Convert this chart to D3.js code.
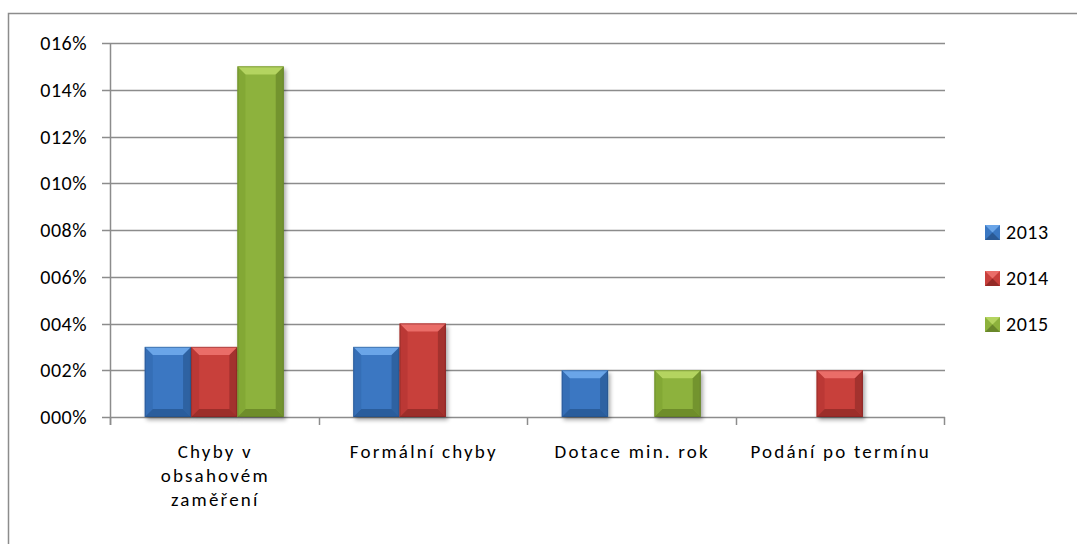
<!DOCTYPE html>
<html><head><meta charset="utf-8">
<script src="https://cdn.jsdelivr.net/npm/d3@7"></script>
<style>
body{margin:0;background:#fff;}
text{font-family:Carlito,Lato,"Open Sans",sans-serif;fill:#000;}
</style></head>
<body><svg id="c" width="1077" height="544"></svg>
<script>
const categories = [["Chyby v","obsahovém","zaměření"],["Formální chyby"],["Dotace min. rok"],["Podání po termínu"]];
const seriesNames = ["2013","2014","2015"];
const values2013 = [3,3,2,0];
const values2014 = [3,4,0,2];
const values2015 = [15,0,2,0];
const yTicks = [0,2,4,6,8,10,12,14,16];
const tickLabels = ["000%","002%","004%","006%","008%","010%","012%","014%","016%"];

const seriesValues = [values2013, values2014, values2015];
const colors = [
  {main:"#3a77c2", top:"#6aa5e8", bot:"#234d82", side:"#2f66a9"},
  {main:"#c83f3b", top:"#ea6d68", bot:"#7e2220", side:"#ad3431"},
  {main:"#8db23c", top:"#b4d460", bot:"#5a7522", side:"#7a9d30"}
];

const svg = d3.select("#c");
const defs = svg.append("defs");
const f = defs.append("filter").attr("id","sh").attr("x","-20%").attr("y","-20%").attr("width","150%").attr("height","150%");
f.append("feGaussianBlur").attr("in","SourceAlpha").attr("stdDeviation",2);
f.append("feOffset").attr("dx",2).attr("dy",3).attr("result","o");
f.append("feComponentTransfer").append("feFuncA").attr("type","linear").attr("slope",0.35);
const m = f.append("feMerge"); m.append("feMergeNode"); m.append("feMergeNode").attr("in","SourceGraphic");

// frame
svg.append("rect").attr("x",8.5).attr("y",13.5).attr("width",1080).attr("height",540)
  .attr("fill","none").attr("stroke","#8c8c8c").attr("stroke-width",1.5);

const x0 = 110, x1 = 944, yTop = 43, yBot = 417;
const y = d3.scaleLinear().domain([0,16]).range([yBot,yTop]);
const xc = d3.scaleBand().domain(d3.range(categories.length)).range([x0,x1]).paddingInner(0).paddingOuter(0);
const xs = d3.scaleBand().domain(d3.range(seriesNames.length)).range([0,xc.bandwidth()]).paddingInner(0).paddingOuter(0.75);

// gridlines
svg.append("g").selectAll("line").data(yTicks).join("line")
  .attr("x1",x0-8).attr("x2",x1+1).attr("y1",d=>Math.round(y(d))+0.5).attr("y2",d=>Math.round(y(d))+0.5)
  .attr("stroke","#8c8c8c").attr("stroke-width",1.5);
svg.append("line").attr("x1",x0+0.5).attr("x2",x0+0.5).attr("y1",yTop).attr("y2",yBot+8)
  .attr("stroke","#8c8c8c").attr("stroke-width",1.5);
// x ticks
svg.append("g").selectAll("line").data(d3.range(categories.length+1)).join("line")
  .attr("x1",d=>Math.round(x0+d*xc.bandwidth())+0.5).attr("x2",d=>Math.round(x0+d*xc.bandwidth())+0.5)
  .attr("y1",yBot).attr("y2",yBot+8).attr("stroke","#8c8c8c").attr("stroke-width",1.5);

// y labels
svg.append("g").selectAll("text").data(yTicks).join("text")
  .attr("x",87).attr("y",d=>y(d)+7).attr("text-anchor","end").attr("font-size",20).attr("letter-spacing",0.5)
  .text((d,i)=>tickLabels[i]);

// x labels
categories.forEach((lines,ci)=>{
  const cx = xc(ci)+xc.bandwidth()/2 + 1;
  lines.forEach((ln,li)=>{
    svg.append("text").attr("x",cx).attr("y",458+li*24).attr("text-anchor","middle").attr("font-size",19)
      .attr("letter-spacing",2.2).text(ln);
  });
});

// bars
function bevelBar(g, bx, by, w, h, c){
  const b = Math.min(8, w/4, h/3);
  const gg = g.append("g").attr("filter","url(#sh)");
  gg.append("rect").attr("x",bx).attr("y",by).attr("width",w).attr("height",h).attr("fill",c.main);
  gg.append("path").attr("d",`M${bx},${by}L${bx+w},${by}L${bx+w-b},${by+b}L${bx+b},${by+b}Z`).attr("fill",c.top);
  gg.append("path").attr("d",`M${bx},${by+h}L${bx+w},${by+h}L${bx+w-b},${by+h-b}L${bx+b},${by+h-b}Z`).attr("fill",c.bot).attr("opacity",0.6);
  gg.append("path").attr("d",`M${bx},${by}L${bx+b},${by+b}L${bx+b},${by+h-b}L${bx},${by+h}Z`).attr("fill",c.side).attr("opacity",0.5);
  gg.append("path").attr("d",`M${bx+w},${by}L${bx+w-b},${by+b}L${bx+w-b},${by+h-b}L${bx+w},${by+h}Z`).attr("fill",c.bot).attr("opacity",0.5);
  gg.append("rect").attr("x",bx+0.5).attr("y",by+0.5).attr("width",w-1).attr("height",h-1).attr("fill","none").attr("stroke",c.bot).attr("stroke-opacity",0.5);
}
const barsG = svg.append("g");
seriesValues.forEach((vals,si)=>{
  vals.forEach((v,ci)=>{
    if(v<=0) return;
    const bx = xc(ci)+xs(si);
    bevelBar(barsG, bx, y(v), xs.bandwidth(), y(0)-y(v), colors[si]);
  });
});

// legend
const lg = svg.append("g");
seriesNames.forEach((n,i)=>{
  const ly = 232 + i*46;
  const c = colors[i];
  const s = 15, lx = 985, t = ly - 7;
  lg.append("rect").attr("x",lx).attr("y",t).attr("width",s).attr("height",s).attr("fill",c.main);
  lg.append("path").attr("d",`M${lx},${t}L${lx+s},${t}L${lx+s/2},${t+s/2}Z`).attr("fill",c.top);
  lg.append("path").attr("d",`M${lx},${t+s}L${lx+s},${t+s}L${lx+s/2},${t+s/2}Z`).attr("fill",c.bot).attr("opacity",0.7);
  lg.append("text").attr("x",lx+21).attr("y",ly+7).attr("font-size",20).attr("letter-spacing",0.5).text(n);
});
</script></body></html>
